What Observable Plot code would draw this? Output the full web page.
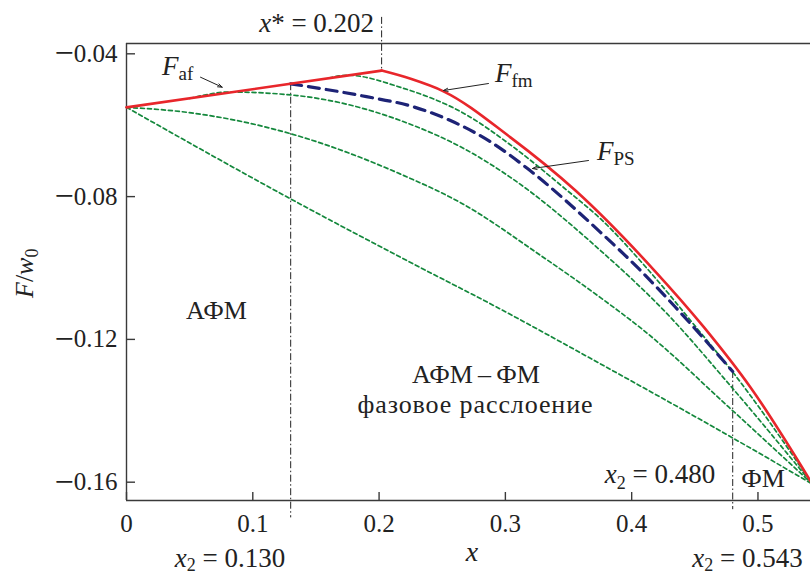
<!DOCTYPE html>
<html>
<head>
<meta charset="utf-8">
<script src="https://cdn.jsdelivr.net/npm/d3@7"></script>
<script src="https://cdn.jsdelivr.net/npm/@observablehq/plot@0.6"></script>
<style>
  html, body { margin: 0; padding: 0; background: #fff; }
  #chart svg { display: block; overflow: visible; }
</style>
</head>
<body>
<div id="chart"></div>
<script>
// Free energy F/w0 versus doping x: AFM and FM branches, phase-separated state
// and a family of trial curves.

// F_af: antiferromagnetic branch (straight segment up to x*)
const afX = [0, 0.202];
const afF = [-0.0550, -0.0447];

// F_fm: ferromagnetic branch from x* to the end point
const fmX = [0.202, 0.225, 0.251, 0.304, 0.3555, 0.4175, 0.457, 0.494, 0.543];
const fmF = [-0.0447, -0.0470, -0.0505, -0.0634, -0.0783, -0.1005, -0.1165, -0.1334, -0.1605];

// F_PS: phase-separated state between the two x2 boundaries
const psX = [0.130, 0.190, 0.2249, 0.2565, 0.288, 0.317, 0.3753, 0.4056, 0.4347, 0.480];
const psF = [-0.0484, -0.0520, -0.0546, -0.0587, -0.0646, -0.0720, -0.0900, -0.1002, -0.1110, -0.1290];

// Family of auxiliary curves (green, dotted)
const gAX = [0.050, 0.082, 0.135, 0.217, 0.270, 0.304, 0.3753, 0.428, 0.477, 0.543];
const gAF = [-0.0525, -0.0507, -0.0517, -0.0587, -0.0671, -0.0746, -0.0951, -0.1128, -0.1325, -0.1605];
const gBX = [0, 0.048, 0.0876, 0.135, 0.217, 0.2645, 0.328, 0.3753, 0.4096, 0.477, 0.543];
const gBF = [-0.0550, -0.0564, -0.0587, -0.0629, -0.0737, -0.0817, -0.0965, -0.1083, -0.1175, -0.1390, -0.1605];
const gCX = [0, 0.135, 0.217, 0.296, 0.375, 0.477, 0.543];
const gCF = [-0.0550, -0.0816, -0.0970, -0.1115, -0.1268, -0.1470, -0.1605];
const gDX = [0.160, 0.175, 0.217, 0.2697, 0.304, 0.349, 0.3753, 0.4136, 0.4531, 0.477, 0.543];
const gDF = [-0.0468, -0.0460, -0.0494, -0.0572, -0.0655, -0.0783, -0.0862, -0.1007, -0.1175, -0.1278, -0.1605];

// Special concentrations
const xStar = 0.202;
const x2Left = 0.130;
const x2Mid = 0.480;
const x2Right = 0.543;

// Axis ticks
const xTicks = [0, 0.1, 0.2, 0.3, 0.4, 0.5];
const yTicks = [-0.04, -0.08, -0.12, -0.16];

// Text
const regionAfm = "АФМ";
const regionMixed = "АФМ\u2009–\u2009ФМ";
const regionMixedSub = "фазовое расслоение";
const regionFm = "ФМ";

const rows = (name, xs, fs) => xs.map((x, i) => ({curve: name, x, F: fs[i]}));
const greens = [
  ...rows("A", gAX, gAF), ...rows("B", gBX, gBF),
  ...rows("C", gCX, gCF), ...rows("D", gDX, gDF)
];
const af = rows("af", afX, afF);
const fm = rows("fm", fmX, fmF);
const ps = rows("ps", psX, psF);

const afAt = (x) => d3.scaleLinear().domain(afX).range(afF)(x);

const ink = "#222";
const axisInk = "#3a3a3a";
const green = "#14883c";
const red = "#e8262b";
const navy = "#1d2376";
const dashDot = "7,2.5,1.5,2.5";
const fmtY = d => "\u2212" + Math.abs(d).toFixed(2);
const fmtX = d => d === 0 ? "0" : String(d);

const yDomain = [-0.16513, -0.03711];
const xDomain = [0, 0.5416];

const plot = Plot.plot({
  width: 810,
  height: 574,
  marginLeft: 126,
  marginRight: 0,
  marginTop: 43,
  marginBottom: 74,
  style: {fontFamily: "'Liberation Serif', 'DejaVu Serif', serif", fontSize: "25px", color: ink, background: "#fff"},
  x: {domain: xDomain},
  y: {domain: yDomain},
  marks: [
    // frame: top, left and bottom edges
    Plot.ruleY([yDomain[1]], {stroke: axisInk, strokeWidth: 1.4}),
    Plot.ruleY([yDomain[0]], {stroke: axisInk, strokeWidth: 1.4}),
    Plot.ruleX([0], {stroke: axisInk, strokeWidth: 1.4}),
    Plot.axisX({ticks: xTicks, tickSize: -8, tickPadding: 22, tickFormat: fmtX, stroke: axisInk, strokeWidth: 1.4, fill: ink, label: null}),
    Plot.axisY({ticks: yTicks, tickSize: -9, tickPadding: 18, tickFormat: fmtY, stroke: axisInk, strokeWidth: 1.4, fill: ink, label: null}),

    // dash-dot markers at x*, x2
    Plot.ruleX([xStar], {y1: -0.0298, y2: afF[1], stroke: ink, strokeWidth: 1, strokeDasharray: dashDot}),
    Plot.ruleX([x2Left], {y1: afAt(x2Left), y2: -0.1700, stroke: ink, strokeWidth: 1, strokeDasharray: dashDot}),
    Plot.ruleX([x2Mid], {y1: psF[psF.length - 1], y2: -0.1677, stroke: ink, strokeWidth: 1, strokeDasharray: dashDot}),

    // curves
    Plot.line(greens, {x: "x", y: "F", z: "curve", stroke: green, strokeWidth: 1.7, strokeDasharray: "4,3", curve: "monotone-x"}),
    Plot.line(ps, {x: "x", y: "F", stroke: navy, strokeWidth: 3.2, strokeDasharray: "11,7", curve: "monotone-x"}),
    Plot.line(af, {x: "x", y: "F", stroke: red, strokeWidth: 2.6}),
    Plot.line(fm, {x: "x", y: "F", stroke: red, strokeWidth: 2.6, curve: "monotone-x"}),

    // pointer arrows for the curve labels
    Plot.arrow([
      {x1: 0.0586, y1: -0.04655, x2: 0.0758, y2: -0.04935},
      {x1: 0.2866, y1: -0.04832, x2: 0.2510, y2: -0.05028},
      {x1: 0.3658, y1: -0.06989, x2: 0.3215, y2: -0.07213}
    ], {x1: "x1", y1: "y1", x2: "x2", y2: "y2", stroke: ink, strokeWidth: 1, headLength: 7, headAngle: 40})
  ]
});

document.getElementById("chart").append(plot);

const svg = d3.select(plot);

// longer minus sign on the y tick labels
svg.selectAll('[aria-label="y-axis tick label"] text').each(function () {
  const label = this.textContent;
  const t = d3.select(this).text(null);
  t.append("tspan").attr("font-size", 34).attr("dy", 2.5).text(label.slice(0, 1));
  t.append("tspan").attr("dy", -2.5).text(label.slice(1));
});

// Labels with italic symbols and subscripts
const sx = plot.scale("x");
const sy = plot.scale("y");
const font = "'Liberation Serif', 'DejaVu Serif', serif";

function richText(x, y, parts, {anchor = "start", size = 26, subSize = 18, subShift = 6, spacing = null, transform = null} = {}) {
  const t = svg.append("text")
    .attr("x", x).attr("y", y)
    .attr("text-anchor", anchor)
    .attr("font-family", font)
    .attr("font-size", size)
    .attr("fill", ink);
  if (spacing != null) t.attr("letter-spacing", spacing);
  if (transform) t.attr("transform", transform);
  let shifted = 0;
  for (const p of parts) {
    const s = t.append("tspan").text(p.t);
    if (p.it) s.attr("font-style", "italic");
    if (p.sub) {
      s.attr("font-size", subSize).attr("dy", subShift - shifted);
      shifted = subShift;
    } else if (shifted) {
      s.attr("dy", -shifted);
      shifted = 0;
    }
  }
  return t;
}

const px = (v) => sx.apply(v);
const py = (v) => sy.apply(v);

// concentration markers
richText(px(xStar) - 7, 32, [{t: "x", it: true}, {t: "* = " + xStar.toFixed(3)}], {anchor: "end", size: 27});
richText(px(x2Left) - 5, 567, [{t: "x", it: true}, {t: "2", sub: true}, {t: " = " + x2Left.toFixed(3)}], {anchor: "end", size: 27, subShift: 4});
richText(px(x2Mid) - 17, 483, [{t: "x", it: true}, {t: "2", sub: true}, {t: " = " + x2Mid.toFixed(3)}], {anchor: "end", size: 27});
richText(px(x2Mid) - 40, 567, [{t: "x", it: true}, {t: "2", sub: true}, {t: " = " + x2Right.toFixed(3)}], {anchor: "start", size: 27, subShift: 4});

// curve names
richText(px(0.0285), py(-0.0461), [{t: "F", it: true}, {t: "af", sub: true}], {size: 27, subSize: 19, subShift: 5});
richText(px(0.2922), py(-0.0480), [{t: "F", it: true}, {t: "fm", sub: true}], {size: 27, subSize: 19, subShift: 5});
richText(px(0.3729), py(-0.0699), [{t: "F", it: true}, {t: "PS", sub: true}], {size: 27, subSize: 19, subShift: 5});

// phase regions
richText(px(0.0716), py(-0.1144), [{t: regionAfm}], {anchor: "middle", size: 26});
richText(px(0.2771), py(-0.1323), [{t: regionMixed}], {anchor: "middle", size: 26});
richText(px(0.2767), py(-0.1408), [{t: regionMixedSub}], {anchor: "middle", size: 26, spacing: 0.9});
richText(px(0.5044), py(-0.1615), [{t: regionFm}], {anchor: "middle", size: 26});

// axis titles
richText(px(0.274), 561, [{t: "x", it: true}], {anchor: "middle", size: 28});
richText(0, 0, [{t: "F", it: true}, {t: "/"}, {t: "w", it: true}, {t: "0", sub: true}],
  {anchor: "start", size: 26, subSize: 18, subShift: 5, transform: "translate(33,298) rotate(-90)"});
</script>
</body>
</html>
